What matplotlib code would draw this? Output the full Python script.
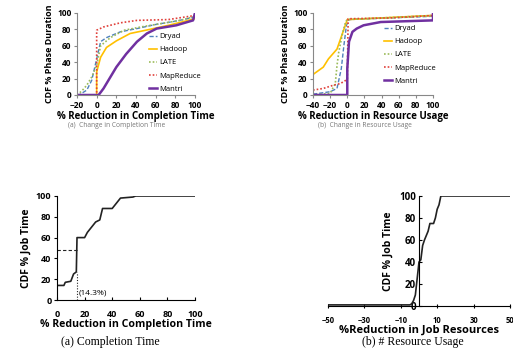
import matplotlib

matplotlib.use("Agg")
import matplotlib.pyplot as plt

W, H = 513, 349

# ---- top-left: change in completion time (per phase) ----
tl_dryad_x = [-20, -18, -10, -5, 0, 4, 10, 24, 41, 60, 80, 100]
tl_dryad_y = [0, 0, 6, 18, 44, 65, 70, 77, 81, 86, 90, 95]
tl_hadoop_x = [-20, 0, 0, 4, 10, 20, 34, 50, 73, 100]
tl_hadoop_y = [0, 0, 28, 46, 58, 66, 75, 79, 85, 93]
tl_late_x = [-20, -15, -10, -5, 0, 4, 14, 28, 45, 65, 85, 100]
tl_late_y = [0, 5, 12, 22, 36, 60, 70, 79, 83, 87, 91, 96]
tl_mr_x = [-20, 0, 0, 7, 24, 41, 73, 100]
tl_mr_y = [0, 0, 79, 83, 88, 91, 92, 97]
tl_mantri_x = [-20, 2, 7, 14, 20, 30, 41, 51, 61, 81, 98, 100]
tl_mantri_y = [0, 0, 8, 22, 34, 50, 65, 75, 81, 85, 91, 100]

# ---- top-right: change in resource usage (per phase) ----
tr_dryad_x = [-40, -20, -12, -7, -4, -1, 2, 100]
tr_dryad_y = [1, 4, 8, 32, 60, 85, 92, 96]
tr_hadoop_x = [-40, -28, -22, -12, -8, -4, 0, 100]
tr_hadoop_y = [25, 34, 44, 56, 68, 80, 92, 97]
tr_late_x = [-40, -20, -14, -12, -10, -6, -2, 0, 100]
tr_late_y = [0, 2, 14, 36, 52, 73, 89, 92, 97]
tr_mr_x = [-40, -28, -16, -8, 0, 1, 50, 100]
tr_mr_y = [6, 8, 12, 14, 19, 93, 94, 97]
tr_mantri_x = [-40, 0, 0, 2, 6, 11, 19, 39, 100, 100]
tr_mantri_y = [0, 0, 32, 65, 77, 81, 85, 89, 91, 100]

# ---- bottom-left: per job completion time ----
bl_x = [0, 5, 6, 10, 12, 14, 14.5, 20, 22, 25, 28, 31, 33, 40, 43, 46, 55, 57, 100]
bl_y = [14, 14, 17, 18, 25, 27, 60, 60, 65, 70, 75, 77, 88, 88, 93, 98, 99, 100, 100]

# ---- bottom-right: per job resources ----
br_x = [-50, -5, -4, -3, -2, -1, 0, 1, 2, 3, 5, 6, 8, 9, 10, 11, 12, 50]
br_y = [1, 1, 2, 5, 10, 25, 40, 42, 55, 60, 68, 75, 75, 80, 88, 92, 100, 100]

series_names = ["Dryad", "Hadoop", "LATE", "MapReduce", "Mantri"]
colors = ["#4f81bd", "#ffc000", "#9bbb59", "#e0403a", "#7030a0"]
styles = [(0, (3, 1.5)), "-", (0, (1, 1.2)), (0, (1, 1.2)), "-"]
widths = [1.0, 1.2, 1.2, 1.2, 1.8]

SANS = ["Open Sans", "DejaVu Sans"]
SERIF = ["Liberation Serif", "DejaVu Serif"]


def rect(x0, y0, x1, y1):
    return [x0 / W, 1 - y1 / H, (x1 - x0) / W, (y1 - y0) / H]


def style_top(ax, xlim, xticks):
    for s in ("top", "right"):
        ax.spines[s].set_visible(False)
    for s in ("left", "bottom"):
        ax.spines[s].set_color("#888888")
        ax.spines[s].set_linewidth(0.8)
    ax.set_xlim(*xlim)
    ax.set_ylim(0, 100)
    ax.set_xticks(xticks)
    ax.set_yticks(range(0, 101, 20))
    ax.tick_params(labelsize=6, length=2, color="#888888", pad=2)
    for lab in ax.get_xticklabels() + ax.get_yticklabels():
        lab.set_fontweight("bold")
    ax.set_ylabel("CDF % Phase Duration", fontsize=6.5, fontweight="bold", labelpad=2)


def top_legend(ax, x, y):
    ax.legend(loc="upper left", bbox_to_anchor=(x / W, 1 - y / H),
              bbox_transform=fig.transFigure, fontsize=5.5, frameon=False,
              handlelength=1.1, handletextpad=0.3, labelspacing=0.75, borderpad=0,
              borderaxespad=0)


fig = plt.figure(figsize=(W / 100, H / 100), dpi=100)
plt.rcParams["font.family"] = SANS

# top-left
ax = fig.add_axes(rect(77, 13, 195, 95))
data = [(tl_dryad_x, tl_dryad_y), (tl_hadoop_x, tl_hadoop_y), (tl_late_x, tl_late_y),
        (tl_mr_x, tl_mr_y), (tl_mantri_x, tl_mantri_y)]
for (xs, ys), n, c, ls, lw in zip(data, series_names, colors, styles, widths):
    ax.plot(xs, ys, color=c, ls=ls, lw=lw, label=n)
style_top(ax, (-20, 100), range(-20, 101, 20))
ax.set_xlabel("% Reduction in Completion Time", fontsize=7, fontweight="bold", labelpad=1)
top_legend(ax, 149, 33)
fig.text(117 / W, 1 - 126 / H, "(a)  Change in Completion Time", fontsize=4.8,
         color="#777777", ha="center", va="center")

# top-right
ax = fig.add_axes(rect(313, 13, 433, 95))
data = [(tr_dryad_x, tr_dryad_y), (tr_hadoop_x, tr_hadoop_y), (tr_late_x, tr_late_y),
        (tr_mr_x, tr_mr_y), (tr_mantri_x, tr_mantri_y)]
for (xs, ys), n, c, ls, lw in zip(data, series_names, colors, styles, widths):
    ax.plot(xs, ys, color=c, ls=ls, lw=lw, label=n)
style_top(ax, (-40, 100), range(-40, 101, 20))
ax.set_xlabel("% Reduction in Resource Usage", fontsize=7, fontweight="bold", labelpad=1)
top_legend(ax, 384, 25)
fig.text(365 / W, 1 - 126 / H, "(b)  Change in Resource Usage", fontsize=4.8,
         color="#777777", ha="center", va="center")

# bottom-left
ax = fig.add_axes(rect(57, 196, 195, 300))
ax.plot(bl_x, bl_y, color="#222222", lw=1.2)
ax.plot([0, 14.3], [48, 48], color="#222222", lw=0.8, ls=(0, (3, 2)))
ax.plot([14.3, 14.3], [0, 27], color="#222222", lw=0.8, ls=(0, (1, 1.5)))
ax.text(15.5, 7, "(14.3%)", fontsize=6, va="center", ha="left")
for s in ("top", "right"):
    ax.spines[s].set_visible(False)
ax.set_xlim(0, 100)
ax.set_ylim(0, 100)
ax.set_xticks(range(0, 101, 20))
ax.set_yticks(range(0, 101, 20))
ax.tick_params(axis="x", direction="in", length=2, labelsize=6.5, pad=7)
ax.tick_params(axis="y", direction="out", length=2, labelsize=6.5, pad=2)
for lab in ax.get_xticklabels() + ax.get_yticklabels():
    lab.set_fontweight("bold")
ax.set_ylabel("CDF % Job Time", fontsize=7.5, fontweight="bold", labelpad=3)
ax.set_xlabel("% Reduction in Completion Time", fontsize=7.6, fontweight="bold", labelpad=0)
fig.text(110 / W, 1 - 342 / H, "(a) Completion Time", fontsize=8.5,
         family=SERIF, ha="center", va="center")

# bottom-right
ax = fig.add_axes(rect(328, 196, 510, 306))
ax.plot(br_x, br_y, color="#222222", lw=1.2)
ax.spines["left"].set_position(("data", 0))
for s in ("top", "right"):
    ax.spines[s].set_visible(False)
ax.set_xlim(-50, 50)
ax.set_ylim(0, 100)
ax.set_xticks(range(-50, 51, 20))
ax.set_yticks(range(0, 101, 20))
ax.tick_params(axis="x", direction="inout", length=3, labelsize=5.5, pad=6)
ax.tick_params(axis="y", direction="in", length=2, labelsize=7, pad=2)
for lab in ax.get_xticklabels() + ax.get_yticklabels():
    lab.set_fontweight("bold")
fig.text(388 / W, 1 - 251 / H, "CDF % Job Time", fontsize=7.5, fontweight="bold",
         rotation=90, ha="center", va="center")
fig.text(419 / W, 1 - 330 / H, "%Reduction in Job Resources", fontsize=8,
         fontweight="bold", ha="center", va="center")
fig.text(413 / W, 1 - 342 / H, "(b) # Resource Usage", fontsize=8.5,
         family=SERIF, ha="center", va="center")

fig.savefig("out.png", dpi=100)
plt.close(fig)
